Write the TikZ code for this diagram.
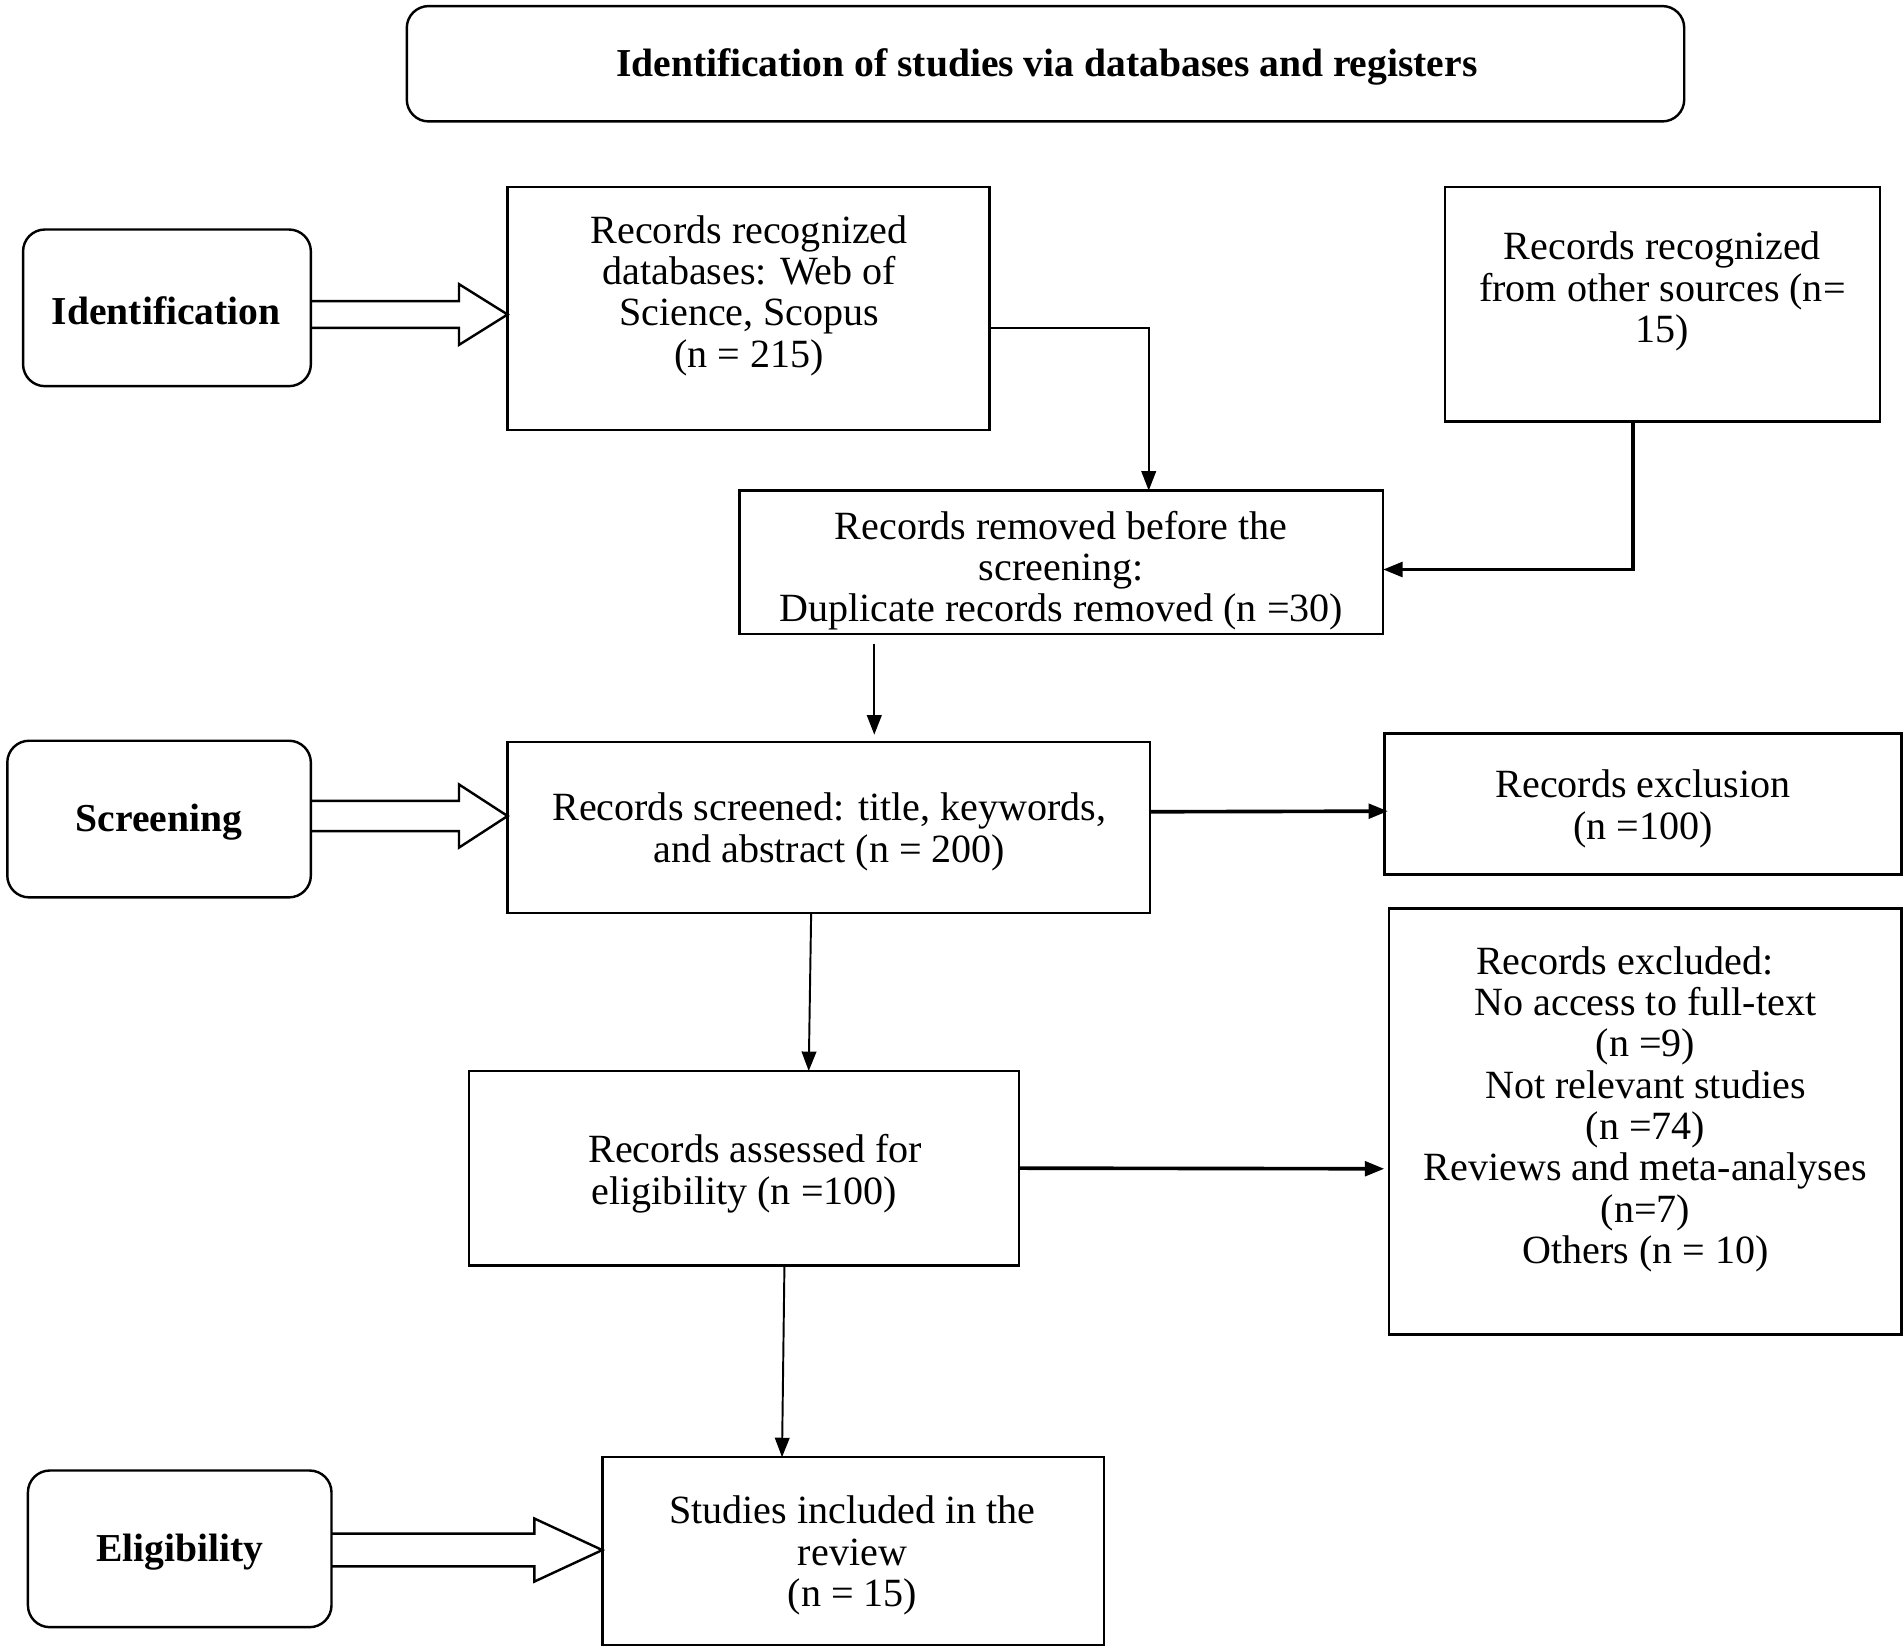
\documentclass[tikz,border=0pt]{standalone}
\usepackage{fontspec}
\setmainfont{Liberation Serif}
\usetikzlibrary{arrows.meta,calc}
\begin{document}
\begin{tikzpicture}[x=0.5pt,y=-0.5pt,
  every node/.style={font=\fontsize{16.5}{17}\selectfont},
  box/.style={draw, line width=1pt, inner sep=0pt, outer sep=0pt},
  stage/.style={box, rounded corners=9pt},
  sz/.style 2 args={minimum width=#1*0.5pt, minimum height=#2*0.5pt},
  txt/.style={align=center, inner sep=0pt},
  btxt/.style={align=center, inner sep=0pt, font=\fontsize{16.3}{17}\selectfont\bfseries},
  conn/.style={line width=0.8pt, -{Triangle[length=8pt,width=6pt]}},
  tconn/.style={line width=1.5pt, -{Triangle[length=8pt,width=6pt]}},
  fat/.style={line width=1pt, line join=miter}]
\useasboundingbox (0,0) rectangle (1568,1355.5);

% title
\node[stage, sz={1052}{95}] (title) at (861,52.5) {};
\node[btxt] (titleT) at (862,55) {Identification of studies via databases and registers};

% stage boxes
\node[stage, sz={237}{129}] (ident) at (137.5,253.5) {};
\node[btxt] (identT) at (137,256) {Identification};
\node[stage, sz={250}{129}] (screen) at (131,674.5) {};
\node[btxt] (screenT) at (131,677) {Screening};
\node[stage, sz={250}{129}] (elig) at (148,1275.5) {};
\node[btxt] (eligT) at (148,1278) {Eligibility};

% boxes
\node[box, sz={397}{200}] (A) at (616.5,254) {};
\node[txt] (AT) at (617,243.5) {Records recognized\\databases: Web of\\Science, Scopus\\(n = 215)};

\node[box, sz={358}{193}] (B) at (1369,250.5) {};
\node[txt] (BT) at (1369,240) {Records recognized\\from other sources (n=\\15)};

\node[box, sz={530}{118}] (C) at (874,463) {};
\node[txt] (CT) at (874,470) {Records removed before the\\screening:\\Duplicate records removed (n =30)};

\node[box, sz={529}{141}] (D) at (682.5,681.5) {};
\node[txt] (DT) at (683,685) {Records screened: title, keywords,\\and abstract (n = 200)};

\node[box, sz={426}{116}] (E) at (1353,662) {};
\node[txt] (ET) at (1353,666) {Records exclusion\\(n =100)};

\node[box, sz={422}{351}] (F) at (1355,923.5) {};
\node[txt] (FT) at (1355,913.5) {Records excluded:\hspace*{17pt}\\No access to full-text\\(n =9)\\Not relevant studies\\(n =74)\\Reviews and meta-analyses\\(n=7)\\Others (n = 10)};

\node[box, sz={453}{160}] (G) at (612.5,962) {};
\node[txt] (GT) at (622,966.5) {Records assessed for\\eligibility (n =100)\hspace*{9pt}};

\node[box, sz={413}{155}] (H) at (702.5,1277.5) {};
\node[txt] (HT) at (702,1281) {Studies included in the\\review\\(n = 15)};

% hollow stage arrows
\coordinate (s1) at (ident.east |- 0,259);
\coordinate (t1) at (A.west |- 0,259);
\draw[fat] ($(s1)+(0,-11)$) -- ($(t1)+(-40,-11)$) -- ($(t1)+(-40,-25)$) -- (t1)
  -- ($(t1)+(-40,25)$) -- ($(t1)+(-40,11)$) -- ($(s1)+(0,11)$);

\coordinate (s2) at (screen.east |- 0,672);
\coordinate (t2) at (D.west |- 0,672);
\draw[fat] ($(s2)+(0,-12.5)$) -- ($(t2)+(-40,-12.5)$) -- ($(t2)+(-40,-26)$) -- (t2)
  -- ($(t2)+(-40,26)$) -- ($(t2)+(-40,12.5)$) -- ($(s2)+(0,12.5)$);

\coordinate (s3) at (elig.east |- 0,1276.5);
\coordinate (t3) at (H.west |- 0,1276.5);
\draw[fat] ($(s3)+(0,-13.5)$) -- ($(t3)+(-56,-13.5)$) -- ($(t3)+(-56,-26)$) -- (t3)
  -- ($(t3)+(-56,26)$) -- ($(t3)+(-56,13.5)$) -- ($(s3)+(0,13.5)$);

% connectors
\draw[conn] ($(A.east)+(0,16)$) -| ($(C.north)+(72,0)$);
\draw[tconn] ($(B.south)+(-24,0)$) |- ($(C.east)+(0,6)$);
\draw[conn] ($(C.south)+(-154,8)$) -- ($(D.north)+(37.5,-6)$);
\draw[tconn] ($(D.east)+(0,-13)$) -- ($(E.west)+(3,6)$);
\draw[conn] ($(D.south)+(-14.5,0)$) -- ($(G.north)+(53.5,0)$);
\draw[tconn] (G.east) -- ($(F.west)+(-4,39)$);
\draw[conn] ($(G.south)+(33.5,0)$) -- ($(H.north)+(-58.5,0)$);
\end{tikzpicture}
\end{document}
